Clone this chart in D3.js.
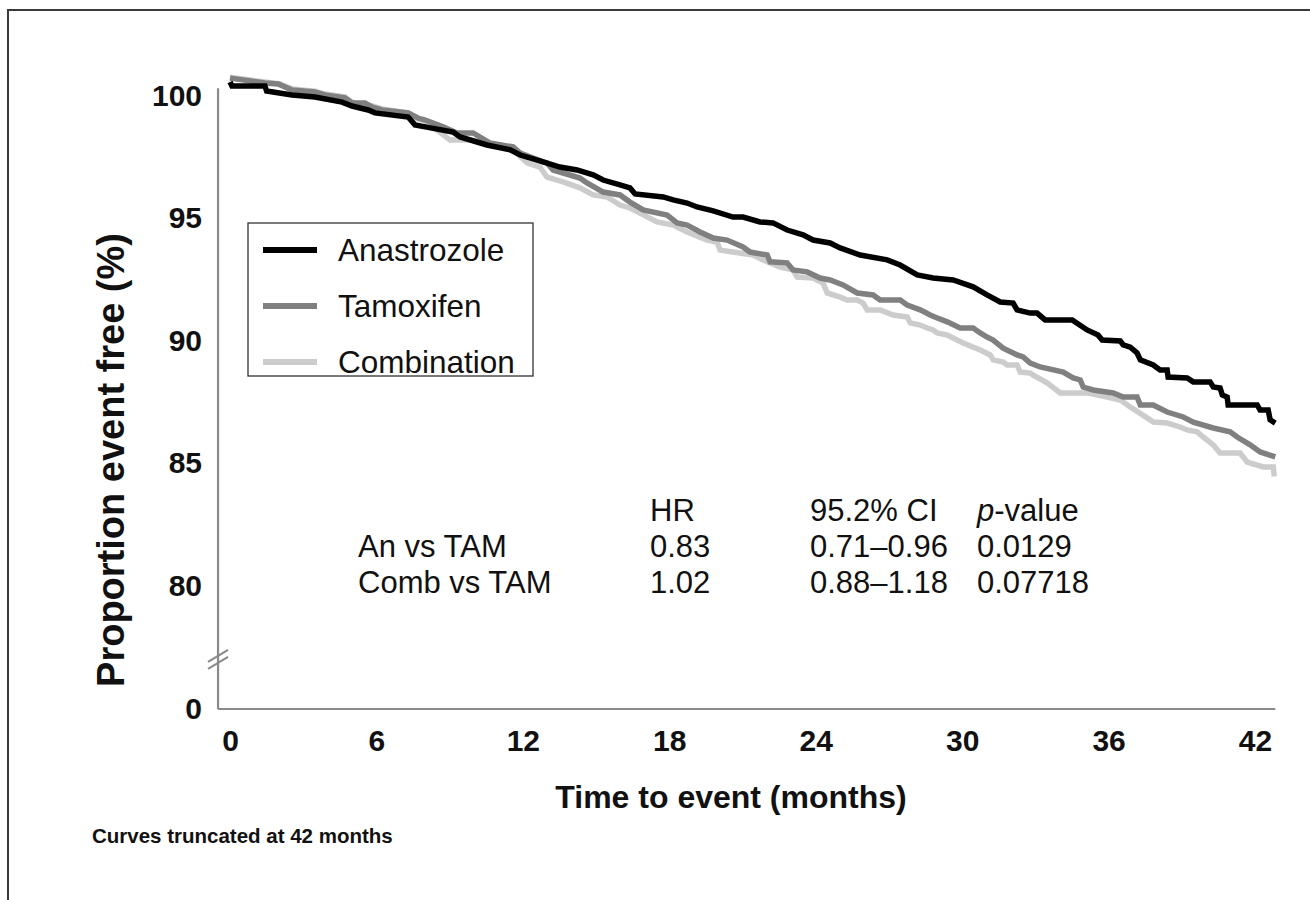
<!DOCTYPE html>
<html>
<head>
<meta charset="utf-8">
<script src="https://cdn.jsdelivr.net/npm/d3@7/dist/d3.min.js"></script>
<style>
  html, body { margin: 0; padding: 0; background: #fff; }
  svg { display: block; font-family: "Liberation Sans", Arial, Helvetica, sans-serif; }
</style>
</head>
<body>
<svg id="chart" width="1310" height="900"></svg>
<script>
// ---- Data (months, % event free) ----
const anastrozole = [
  [0,100.55],[0.08,100.39],[1.43,100.39],[1.5,100.18],[2.54,100.02],[3.48,99.94],[4.59,99.73],
  [5.0,99.57],[5.66,99.41],[5.94,99.29],[7.30,99.12],[7.58,98.80],[8.0,98.72],[9.14,98.51],
  [9.43,98.31],[10.53,97.98],[11.48,97.78],[11.89,97.57],[12.83,97.29],[13.52,97.08],[14.22,96.96],
  [14.88,96.76],[15.29,96.55],[15.98,96.35],[16.39,96.23],[16.60,95.98],[17.75,95.86],[18.16,95.74],
  [18.73,95.61],[19.14,95.45],[19.80,95.29],[20.61,95.04],[21.02,95.04],[21.72,94.84],[22.25,94.80],
  [22.83,94.51],[23.48,94.31],[23.89,94.10],[24.59,93.98],[25.00,93.78],[25.82,93.49],[26.93,93.29],
  [27.46,93.08],[28.16,92.68],[28.81,92.55],[29.63,92.47],[30.45,92.19],[31.02,91.86],[31.56,91.57],
  [32.09,91.53],[32.25,91.25],[32.79,91.12],[33.07,91.12],[33.40,90.84],[34.51,90.84],[35.12,90.43],
  [35.57,90.22],[35.74,90.02],[36.48,89.98],[36.60,89.82],[36.89,89.73],[37.17,89.49],[37.30,89.21],
  [37.83,89.00],[38.11,88.80],[38.40,88.80],[38.44,88.51],[39.22,88.47],[39.47,88.31],[40.16,88.31],
  [40.29,88.10],[40.57,88.06],[40.66,87.78],[40.86,87.69],[40.90,87.37],[42.09,87.37],[42.21,87.16],
  [42.54,87.16],[42.62,86.76],[42.83,86.63]
];
const tamoxifen = [
  [0,100.71],[1.43,100.51],[1.97,100.47],[2.54,100.22],[3.48,100.14],[3.89,100.02],[4.71,99.90],
  [5.0,99.69],[5.53,99.69],[5.82,99.53],[6.23,99.41],[7.30,99.29],[7.70,99.08],[8.0,99.00],
  [8.73,98.72],[9.30,98.47],[9.96,98.47],[10.66,98.06],[11.60,97.90],[11.89,97.65],[12.83,97.29],
  [12.99,97.25],[13.24,96.96],[14.34,96.63],[14.63,96.43],[15.29,96.06],[15.98,95.94],[16.39,95.65],
  [16.93,95.33],[17.91,95.12],[18.32,94.80],[18.73,94.71],[19.26,94.43],[19.80,94.18],[20.37,94.10],
  [21.02,93.82],[21.31,93.61],[22.01,93.49],[22.13,93.21],[22.83,93.17],[23.07,92.88],[23.65,92.80],
  [24.18,92.55],[24.59,92.47],[25.12,92.27],[25.70,91.94],[26.35,91.86],[26.64,91.65],[27.46,91.65],
  [27.75,91.45],[28.28,91.25],[28.69,91.04],[28.98,90.92],[29.39,90.76],[29.92,90.51],[30.45,90.51],
  [30.74,90.31],[31.02,90.14],[31.27,90.02],[31.68,89.69],[32.25,89.41],[32.50,89.33],[32.79,89.08],
  [33.20,88.92],[34.14,88.71],[34.55,88.47],[34.84,88.39],[34.96,88.10],[35.37,87.98],[36.19,87.86],
  [36.60,87.69],[37.17,87.69],[37.30,87.37],[37.83,87.37],[38.40,87.08],[39.06,86.88],[39.47,86.67],
  [40.29,86.43],[40.98,86.27],[41.27,86.06],[41.80,85.74],[42.21,85.45],[42.83,85.25]
];
const combination = [
  [0,100.75],[1.43,100.55],[2.05,100.47],[2.54,100.27],[3.48,100.18],[3.89,100.06],[4.71,99.94],
  [5.0,99.73],[5.82,99.57],[6.23,99.45],[7.30,99.29],[7.70,99.04],[8.0,98.96],[9.02,98.18],
  [9.84,98.18],[10.53,98.06],[11.60,97.78],[12.17,97.25],[12.70,97.08],[12.99,96.67],[13.65,96.47],
  [14.34,96.23],[14.88,95.94],[15.45,95.86],[15.98,95.53],[16.39,95.41],[16.80,95.20],[17.50,94.84],
  [18.16,94.71],[18.73,94.43],[19.55,94.10],[19.96,94.02],[20.08,93.69],[20.61,93.61],[21.43,93.49],
  [21.84,93.29],[22.54,93.00],[23.07,92.88],[23.24,92.59],[23.89,92.55],[24.30,92.35],[24.47,91.94],
  [25.00,91.77],[25.29,91.65],[25.70,91.65],[25.94,91.53],[26.11,91.25],[26.64,91.25],[27.17,91.04],
  [27.75,90.96],[27.87,90.72],[28.28,90.63],[28.57,90.51],[28.81,90.43],[28.98,90.31],[29.39,90.22],
  [29.63,90.10],[30.04,89.90],[30.74,89.61],[31.15,89.41],[31.27,89.21],[31.68,89.12],[31.84,89.00],
  [32.25,89.00],[32.38,88.71],[32.79,88.67],[32.91,88.59],[33.48,88.27],[34.02,87.86],[35.12,87.86],
  [35.94,87.69],[36.48,87.57],[36.89,87.29],[37.58,86.84],[37.83,86.67],[38.40,86.63],[38.93,86.47],
  [39.22,86.35],[39.63,86.27],[39.88,86.06],[40.29,85.74],[40.57,85.41],[41.39,85.41],[41.68,85.04],
  [42.34,84.84],[42.75,84.84],[42.79,84.45]
];
const seriesNames = ["Anastrozole", "Tamoxifen", "Combination"];
const seriesColors = ["#000000", "#808080", "#cccccc"];
const xTicks = [0, 6, 12, 18, 24, 30, 36, 42];
const yTicks = [0, 80, 85, 90, 95, 100];
const tableHeader = ["", "HR", "95.2% CI", "p-value"];
const tableRows = [
  ["An vs TAM", "0.83", "0.71\u20130.96", "0.0129"],
  ["Comb vs TAM", "1.02", "0.88\u20131.18", "0.07718"]
];

// ---- Layout ----
const svg = d3.select("#chart");
const FONT = '"Liberation Sans", Arial, Helvetica, sans-serif';

// outer frame (extends past the page)
svg.append("rect").attr("x", 8).attr("y", 10).attr("width", 1330).attr("height", 920)
  .attr("fill", "none").attr("stroke", "#3a3a3a").attr("stroke-width", 2);

const x = d3.scaleLinear().domain([0, 42]).range([230, 1255]);
// broken axis: 0 sits at the bottom, 77..100 is the linear part
const y = d3.scaleLinear().domain([0, 77, 100]).range([709, 659, 95.5]);

const axisColor = "#8a8a8a";
// axis lines
svg.append("line").attr("x1", x(-0.49)).attr("x2", x(-0.49))
  .attr("y1", y(0)).attr("y2", y(100.3))
  .attr("stroke", axisColor).attr("stroke-width", 2.2);
svg.append("line").attr("x1", x(-0.49)).attr("x2", x(42.83))
  .attr("y1", y(0)).attr("y2", y(0))
  .attr("stroke", axisColor).attr("stroke-width", 2.2);
// axis break marks
const bx = x(-0.49), by = y(76.5);
[-3.5, 3.5].forEach(off => {
  svg.append("line")
    .attr("x1", bx - 10).attr("y1", by + off + 6)
    .attr("x2", bx + 10).attr("y2", by + off - 6)
    .attr("stroke", axisColor).attr("stroke-width", 2);
});

// tick labels via d3 axes
const gx = svg.append("g").attr("transform", `translate(0,${y(0)})`)
  .call(d3.axisBottom(x).tickValues(xTicks).tickSize(0).tickPadding(21));
gx.select(".domain").remove();
gx.selectAll("text").attr("font-family", FONT).attr("font-size", 30)
  .attr("font-weight", "bold").attr("fill", "#111");

const gy = svg.append("g").attr("transform", `translate(${x(-0.49)},0)`)
  .call(d3.axisLeft(y).tickValues(yTicks).tickSize(0).tickPadding(16).tickFormat(d3.format("d")));
gy.select(".domain").remove();
gy.selectAll("text").attr("font-family", FONT).attr("font-size", 30)
  .attr("font-weight", "bold").attr("fill", "#111");

// axis titles
svg.append("text").attr("x", 731).attr("y", 808).attr("text-anchor", "middle")
  .attr("font-family", FONT).attr("font-size", 32).attr("font-weight", "bold").attr("fill", "#111")
  .text("Time to event (months)");
svg.append("text").attr("transform", "translate(124,460) rotate(-90)").attr("text-anchor", "middle")
  .attr("font-family", FONT).attr("font-size", 38).attr("font-weight", "bold").attr("fill", "#111")
  .text("Proportion event free (%)");

// curves
const line = d3.line().x(d => x(d[0])).y(d => y(d[1]));
const allSeries = [combination, tamoxifen, anastrozole];
const drawColors = [seriesColors[2], seriesColors[1], seriesColors[0]];
allSeries.forEach((s, i) => {
  svg.append("path").datum(s).attr("d", line)
    .attr("fill", "none").attr("stroke", drawColors[i]).attr("stroke-width", 5.5)
    .attr("stroke-linejoin", "miter").attr("stroke-linecap", "butt");
});

// legend
const lg = svg.append("g").attr("transform", "translate(248,223)");
lg.append("rect").attr("width", 285).attr("height", 153)
  .attr("fill", "#fff").attr("stroke", "#333").attr("stroke-width", 1.3);
seriesNames.forEach((n, i) => {
  const cy = 27 + i * 56;
  lg.append("line").attr("x1", 15).attr("x2", 69).attr("y1", cy).attr("y2", cy)
    .attr("stroke", seriesColors[i]).attr("stroke-width", 6);
  lg.append("text").attr("x", 90).attr("y", cy).attr("dy", "0.36em")
    .attr("font-family", FONT).attr("font-size", 31.5).attr("fill", "#111").text(n);
});

// statistics table
const colX = [358, 650, 810, 977];
const rowY = [510, 546, 582];
const tg = svg.append("g").attr("font-family", FONT).attr("font-size", 31).attr("fill", "#111");
tableHeader.forEach((h, j) => {
  if (!h) return;
  const t = tg.append("text").attr("x", colX[j]).attr("y", rowY[0]).attr("dy", "0.36em");
  if (h === "p-value") {
    t.append("tspan").attr("font-style", "italic").text("p");
    t.append("tspan").text("-value");
  } else t.text(h);
});
tableRows.forEach((r, i) => {
  r.forEach((c, j) => {
    tg.append("text").attr("x", colX[j]).attr("y", rowY[i + 1]).attr("dy", "0.36em").text(c);
  });
});

// footnote
svg.append("text").attr("x", 92).attr("y", 843)
  .attr("font-family", FONT).attr("font-size", 20.5).attr("font-weight", "bold").attr("fill", "#111")
  .text("Curves truncated at 42 months");
</script>
</body>
</html>
